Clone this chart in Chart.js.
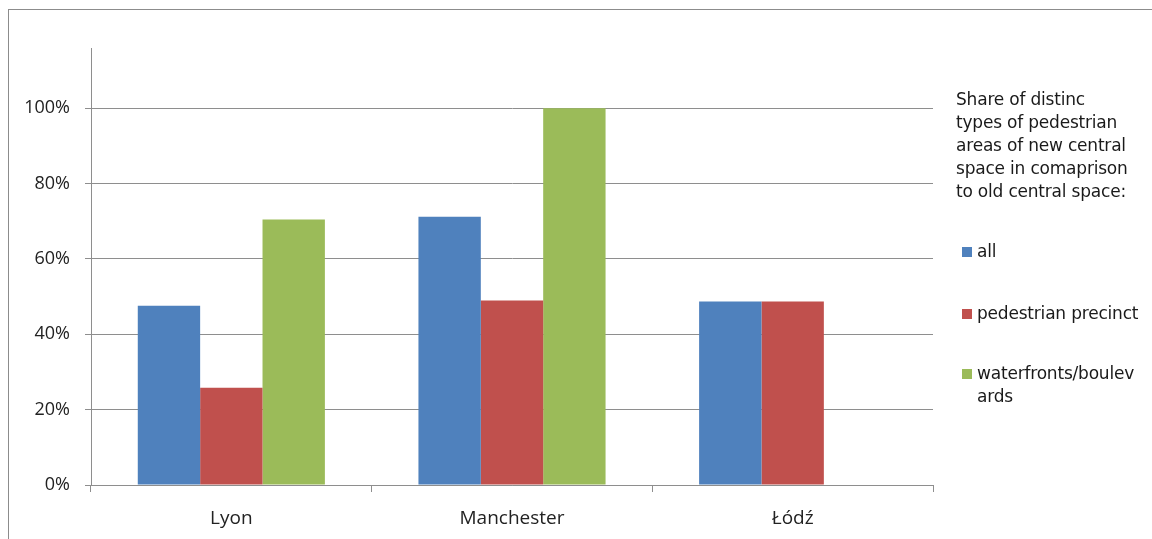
<!DOCTYPE html>
<html>
<head>
<meta charset="utf-8">
<script src="https://cdn.jsdelivr.net/npm/chart.js@4/dist/chart.umd.min.js"></script>
<style>
  html, body { margin: 0; padding: 0; background: #fff; overflow: hidden; }
  #frame {
    position: absolute; left: 8px; top: 9px; width: 1160px; height: 560px;
    border: 1px solid #8c8c8c; box-sizing: border-box;
  }
  #wrap { position: absolute; left: 0; top: 0; width: 1152px; height: 539px; }
  #legend {
    position: absolute; left: 956px; top: 88px; width: 196px;
    font-family: "DejaVu Sans", sans-serif;
    font-size: 17px; color: #1a1a1a; line-height: 23px; letter-spacing: -0.2px;
  }
  #legend .item { position: relative; padding-left: 21px; }
  #legend .sw { position: absolute; left: 6px; top: 7px; width: 10px; height: 10px; }
</style>
</head>
<body>
<div id="frame"></div>
<div id="wrap"><canvas id="myChart" width="1152" height="539"></canvas></div>
<div id="legend"></div>
<script>
const cities = ['Lyon', 'Manchester', 'Łódź'];
const allAreas = [47.6, 71.2, 48.7];
const precinct = [25.8, 49.0, 48.7];
const waterfronts = [70.5, 100, null];
const yTicks = [0, 20, 40, 60, 80, 100];

const seriesNames = ['all', 'pedestrian precinct', 'waterfronts/boulevards'];
const colors = ['#4F81BD', '#C0504D', '#9BBB59'];

// legend on the right, built as html
const legend = document.getElementById('legend')
legend.innerHTML =
    '<div style="margin-bottom:37px">Share of distinc<br>types of pedestrian<br>areas of new central<br>space in comaprison<br>to old central space:</div>' +
    '<div class="item" style="margin-bottom:39px"><span class="sw" style="background:' + colors[0] + '"></span>all</div>' +
    '<div class="item" style="margin-bottom:37px"><span class="sw" style="background:' + colors[1] + '"></span>pedestrian precinct</div>' +
    '<div class="item"><span class="sw" style="background:' + colors[2] + '"></span>waterfronts/boulev<br>ards</div>';

const data = {
    labels: cities,
    datasets: [
        { label: seriesNames[0], data: allAreas, backgroundColor: colors[0] },
        { label: seriesNames[1], data: precinct, backgroundColor: colors[1] },
        { label: seriesNames[2], data: waterfronts, backgroundColor: colors[2] }
    ]
};

const gridGray = '#8e8e8e';

const config = {
    type: 'bar',
    data: data,
    options: {
        responsive: false,
        animation: false,
        datasets: { bar: { categoryPercentage: 3 / 4.5, barPercentage: 1, borderWidth: 0 } },
        layout: { padding: { left: 0, right: 219, top: 48, bottom: 0 } },
        plugins: { legend: { display: false }, tooltip: { enabled: false } },
        scales: {
            x: {
                offset: true,
                grid: { offset: true, drawOnChartArea: false, drawTicks: true, tickLength: 7, color: gridGray },
                border: { display: true, color: gridGray },
                ticks: {
                    padding: 15, color: '#222',
                    font: { family: '"Open Sans", "DejaVu Sans", sans-serif', size: 19 }
                },
                afterFit: function (s) { s.height = 54; }
            },
            y: {
                min: 0, max: 116,
                afterBuildTicks: function (s) { s.ticks = yTicks.map(v => ({ value: v })); },
                grid: { color: gridGray, tickLength: 6 },
                border: { display: true, color: gridGray },
                ticks: {
                    padding: 15, color: '#222',
                    font: { family: '"Open Sans", "DejaVu Sans", sans-serif', size: 18 },
                    callback: function (v) { return v + '%'; }
                },
                afterFit: function (s) { s.width = 91; }
            }
        }
    }
};

const myChart = new Chart(document.getElementById('myChart'), config);
</script>
</body>
</html>
